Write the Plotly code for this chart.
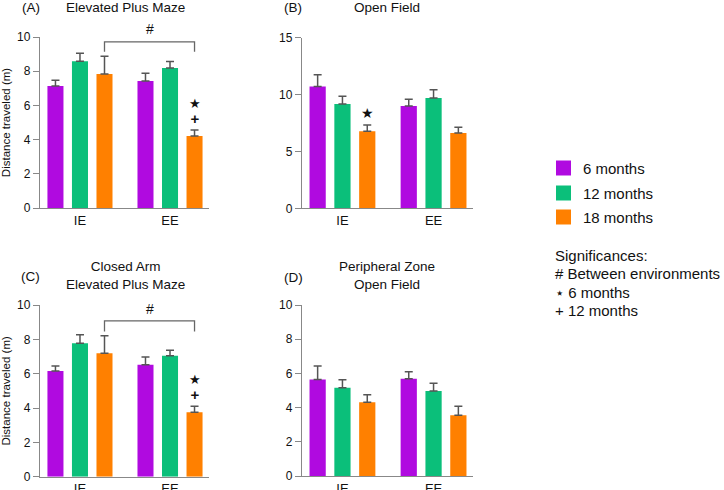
import plotly.graph_objects as go

groups = ["IE", "EE"]
series_names = ["6 months", "12 months", "18 months"]
colors = ["#B00AE0", "#0BBF7A", "#FF8000"]
sig_lines = ["Significances:", "# Between environments", "⋆ 6 months", "+ 12 months"]

# values [series][group], error tops (mean + SEM)
A_mean = [[7.13, 7.43], [8.58, 8.19], [7.84, 4.21]]
A_top = [[7.47, 7.88], [9.05, 8.56], [8.87, 4.56]]
B_mean = [[10.7, 9.0], [9.17, 9.7], [6.77, 6.62]]
B_top = [[11.75, 9.59], [9.85, 10.43], [7.33, 7.12]]
C_mean = [[6.16, 6.52], [7.77, 7.05], [7.19, 3.75]]
C_top = [[6.45, 6.97], [8.27, 7.36], [8.21, 4.10]]
D_mean = [[5.65, 5.69], [5.16, 4.97], [4.31, 3.55]]
D_top = [[6.43, 6.10], [5.63, 5.42], [4.75, 4.08]]

W, H = 724, 490
FONT = "Liberation Sans, Arial, sans-serif"

def px_x(p):
    return p / W

def px_y(p):
    return 1 - p / H

panels = [
    dict(mean=A_mean, top=A_top, ax="", xd=[40, 209], yd=[208, 37], yr=[0, 10], dt=2,
         title="Elevated Plus Maze", tx=125, ty=8, lab="(A)", lx=31, ly=8, ytitle=True),
    dict(mean=B_mean, top=B_top, ax="2", xd=[302, 473], yd=[208.3, 37.7], yr=[0, 15], dt=5,
         title="Open Field", tx=387, ty=8, lab="(B)", lx=293, ly=8, ytitle=False),
    dict(mean=C_mean, top=C_top, ax="3", xd=[40, 209], yd=[476.7, 305], yr=[0, 10], dt=2,
         title="Closed Arm<br>Elevated Plus Maze", tx=125, ty=275.5, lab="(C)", lx=30, ly=276, ytitle=True),
    dict(mean=D_mean, top=D_top, ax="4", xd=[302, 473], yd=[476, 305], yr=[0, 10], dt=2,
         title="Peripheral Zone<br>Open Field", tx=387, ty=275.5, lab="(D)", lx=293, ly=277, ytitle=False),
]

fig = go.Figure()
annotations = []
shapes = []

for pi, p in enumerate(panels):
    xa = "x" + p["ax"]
    ya = "y" + p["ax"]
    for si in range(3):
        fig.add_trace(go.Bar(
            x=groups, y=p["mean"][si], name=series_names[si],
            marker=dict(color=colors[si], line=dict(width=0)),
            error_y=dict(type="data", symmetric=False,
                         array=[t - m for t, m in zip(p["top"][si], p["mean"][si])],
                         arrayminus=[0, 0], color="#555555", thickness=1.5, width=4),
            xaxis=xa, yaxis=ya, showlegend=False,
        ))
    axkey = "xaxis" + p["ax"]
    aykey = "yaxis" + p["ax"]
    fig.layout[axkey] = dict(
        domain=[px_x(p["xd"][0]), px_x(p["xd"][1])], anchor=ya, automargin=False,
        range=[-0.444, 1.433], showline=True, linecolor="#888888", linewidth=1.3,
        ticks="", tickfont=dict(size=13, color="#111"), showgrid=False, zeroline=False,
        type="category", fixedrange=True,
    )
    fig.layout[aykey] = dict(
        domain=[px_y(p["yd"][0]), px_y(p["yd"][1])], anchor=xa, automargin=False,
        range=p["yr"], dtick=p["dt"], showline=True, linecolor="#888888", linewidth=1.3,
        ticks="outside", ticklen=6, tickcolor="#888888", tickwidth=1.3,
        tickfont=dict(size=12, color="#111"), showgrid=False, zeroline=False, fixedrange=True,
        title=dict(text="Distance traveled (m)" if p["ytitle"] else "",
                   font=dict(size=11.5, color="#111"), standoff=4),
    )
    annotations.append(dict(text=p["title"], x=px_x(p["tx"]), y=px_y(p["ty"]), xref="paper", yref="paper",
                            showarrow=False, font=dict(size=13.5, color="#111"), xanchor="center", yanchor="middle"))
    annotations.append(dict(text=p["lab"], x=px_x(p["lx"]), y=px_y(p["ly"]), xref="paper", yref="paper",
                            showarrow=False, font=dict(size=13.5, color="#111"), xanchor="center", yanchor="middle"))

# group offsets (category units) for 3 bars with bargap 0.183
slot = (1 - 0.183) / 3
off = [-slot, 0, slot]

# brackets (#) between environments for panels A and C
for ax, top, end, hy in [("", 9.72, 9.14, 1.046), ("3", 9.07, 8.45, 0.977)]:
    x0 = 0 + off[2]
    x1 = 1 + off[2]
    shapes.append(dict(type="path", xref="x" + ax, yref="y" + ax,
                       path=f"M {x0},{end} L {x0},{top} L {x1},{top} L {x1},{end}",
                       line=dict(color="#666666", width=1.3)))
    annotations.append(dict(text="#", x=0.5 + off[2], y=hy, xref="x" + ax,
                            yref=("y" + ax) + " domain",
                            showarrow=False, font=dict(size=14, color="#111"), yanchor="middle"))

# significance markers (star = vs 6 months, plus = vs 12 months)
star_plus = ("<span style='font-size:13px'>★</span><br>"
             "<span style='font-size:15px;font-weight:bold'>+</span>")
for ax, gi, yv in [("", 1, 5.64), ("3", 1, 5.2)]:
    annotations.append(dict(text=star_plus, x=gi + off[2], y=yv, xref="x" + ax, yref="y" + ax,
                            showarrow=False, font=dict(size=12, color="#111"), yanchor="middle"))
annotations.append(dict(text="★", x=0 + off[2], y=8.38, xref="x2", yref="y2",
                        showarrow=False, font=dict(size=14, color="#111"), yanchor="middle"))

# legend (colour keys)
for i, (name, col) in enumerate(zip(series_names, colors)):
    cy = [168, 193, 217][i]
    shapes.append(dict(type="rect", xref="paper", yref="paper",
                       x0=px_x(556), x1=px_x(571), y0=px_y(cy + 7.5), y1=px_y(cy - 7.5),
                       fillcolor=col, line=dict(width=0)))
    annotations.append(dict(text=name, x=px_x(581), y=px_y(cy), xref="paper", yref="paper",
                            xanchor="left", yanchor="middle", showarrow=False,
                            font=dict(size=15, color="#111")))

# significance key
for line, cy in zip(sig_lines, [255, 273, 292, 310]):
    annotations.append(dict(text=line, x=px_x(553), y=px_y(cy), xref="paper", yref="paper",
                            xanchor="left", yanchor="middle", showarrow=False,
                            font=dict(size=15, color="#111")))

fig.update_layout(
    width=W, height=H, margin=dict(l=0, r=0, t=0, b=0, autoexpand=False),
    paper_bgcolor="white", plot_bgcolor="white",
    barmode="group", bargap=0.183, bargroupgap=0.346,
    font=dict(family=FONT, color="#111"),
    showlegend=False,
    annotations=annotations, shapes=shapes,
)

fig.write_html("out.html", config={"displayModeBar": False},
               post_script="document.body.style.margin='0';document.documentElement.style.overflow='hidden';")
